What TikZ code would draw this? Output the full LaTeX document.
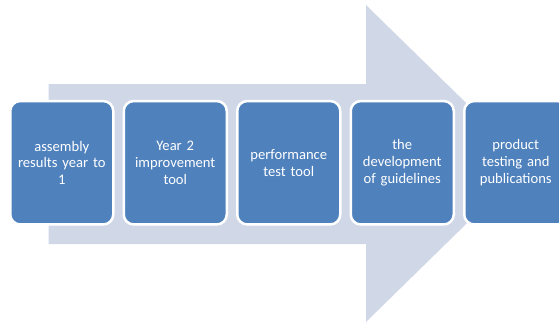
\documentclass[tikz,border=0pt]{standalone}
\usepackage{fontspec}
\setmainfont{Carlito}
\definecolor{boxblue}{HTML}{4F81BD}
\definecolor{arrowgray}{HTML}{D0D8E8}
\begin{document}
\begin{tikzpicture}[x=1pt,y=1pt,
  stepbox/.style={draw=white, line width=2.5pt, fill=boxblue, rounded corners=10pt,
    minimum width=103pt, minimum height=123.4pt, inner sep=0pt, anchor=south west,
    text=white, align=center, text width=100pt,
    font=\fontsize{14.6}{16.7}\selectfont}]
\useasboundingbox (0,0) rectangle (559,322);
\fill[arrowgray] (48.5,238) -- (366,238) -- (366,317) -- (528,158.5) -- (366,0) -- (366,78) -- (48.5,78) -- cycle;
\node[stepbox] (b1) at (9,96.3) {\raisebox{-14pt}{\parbox{100pt}{\centering assembly\\results year to\\1}}};
\node[stepbox] (b2) at (122.5,96.3) {Year 2\\improvement\\tool};
\node[stepbox] (b3) at (236,96.3) {performance\\test tool};
\node[stepbox] (b4) at (349.5,96.3) {the\\development\\of guidelines};
\node[stepbox] (b5) at (463,96.3) {product\\testing and\\publications};
\end{tikzpicture}
\end{document}
